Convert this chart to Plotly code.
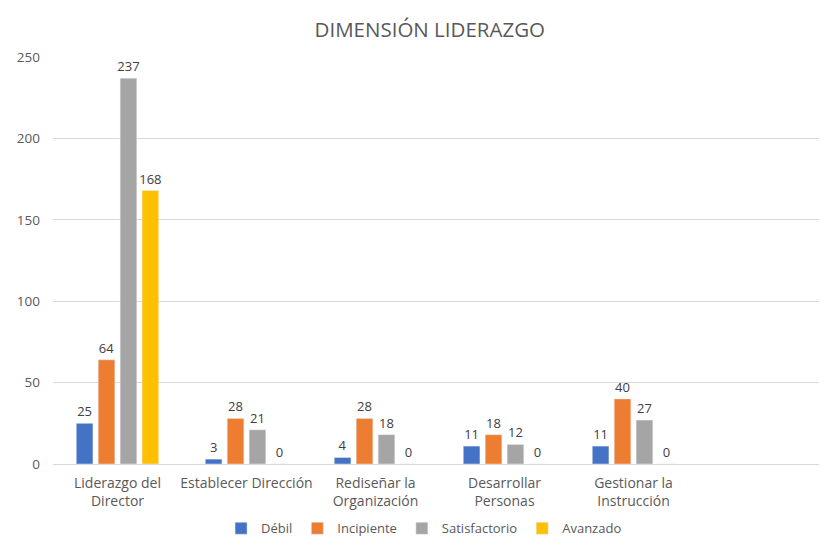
import plotly.graph_objects as go

categories = ["Liderazgo del<br>Director", "Establecer Dirección", "Rediseñar la<br>Organización",
              "Desarrollar<br>Personas", "Gestionar la<br>Instrucción", " "]
series_names = ["Débil", "Incipiente", "Satisfactorio", "Avanzado"]
debil = [25, 3, 4, 11, 11, None]
incipiente = [64, 28, 28, 18, 40, None]
satisfactorio = [237, 21, 18, 12, 27, None]
avanzado = [168, 0, 0, 0, 0, None]
colors = ["#4472C4", "#ED7D31", "#A5A5A5", "#FFC000"]

FONT = "Open Sans, Liberation Sans, sans-serif"
fig = go.Figure()
for name, vals, col in zip(series_names, [debil, incipiente, satisfactorio, avanzado], colors):
    fig.add_trace(go.Bar(
        x=categories, y=vals, name=name, marker_color=col,
        text=[("" if v is None else str(v)) for v in vals],
        textposition="outside", textfont=dict(size=13, color="#404040", family=FONT),
        constraintext="none", cliponaxis=False,
    ))

fig.update_layout(
    width=819, height=532,
    paper_bgcolor="white", plot_bgcolor="white",
    title=dict(text="DIMENSIÓN LIDERAZGO", x=0.515, xanchor="center", y=0.959, yanchor="middle",
               font=dict(size=20.5, color="#595959", family=FONT)),
    margin=dict(l=45, r=0, t=49, b=76),
    barmode="group", bargap=0.32, bargroupgap=0.24,
    font=dict(family=FONT, color="#595959", size=13),
    xaxis=dict(showline=True, linecolor="#D9D9D9", linewidth=1, tickfont=dict(size=14, color="#595959"),
               ticks="", automargin=False, ticklabelstandoff=6),
    yaxis=dict(range=[0, 250], dtick=50, showgrid=True, gridcolor="#D9D9D9", zeroline=False,
               tickfont=dict(size=13.5, color="#595959"), ticks="", ticklabelstandoff=12, automargin=False),
    legend=dict(orientation="h", x=0.508, xanchor="center", xref="container",
                y=0.022, yanchor="middle", yref="container",
                font=dict(size=13, color="#595959"), itemwidth=30, traceorder="normal"),
)
fig.write_html("out.html")
